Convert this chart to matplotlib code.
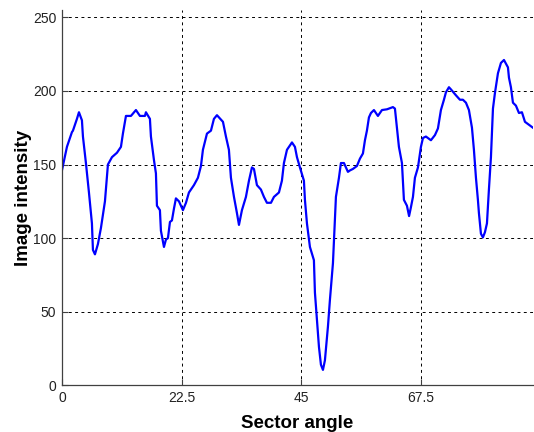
import numpy as np
import matplotlib
matplotlib.use("Agg")
import matplotlib.pyplot as plt

# intensity profile along the sector (angle in degrees, grey value)
angle = [0, 0.94, 1.88, 2.07, 2.82, 3.20, 3.76, 3.95, 4.51, 5.08, 5.64, 5.83, 6.21,
         6.77, 7.34, 8.09, 8.65, 9.41, 10.35, 10.91, 11.10, 11.47, 11.85, 12.04,
         12.98, 13.92, 14.67, 15.61, 15.80, 16.55, 16.74, 17.31, 17.68, 17.87,
         18.43, 18.62, 19.19, 19.56, 19.94, 20.32, 20.69, 21.07, 21.44, 22.01,
         22.76, 23.33, 23.89, 24.83, 25.58, 26.15, 26.52, 27.28, 28.03, 28.59,
         29.16, 29.53, 30.29, 30.85, 31.41, 31.79, 32.36, 32.92, 33.30, 33.86,
         34.61, 35.18, 35.74, 36.12, 36.68, 37.43, 38.00, 38.56, 39.32, 39.88,
         40.82, 41.38, 41.76, 42.33, 43.27, 43.83, 44.21, 44.77, 45.52, 45.71,
         46.09, 46.65, 47.40, 47.59, 47.97, 48.35, 48.72, 49.10, 49.47, 50.04,
         50.41, 50.98, 51.35, 51.54, 52.11, 52.48, 53.05, 53.80, 54.18, 54.74,
         55.49, 56.06, 56.62, 57.00, 57.37, 57.75, 58.13, 58.69, 59.44, 60.20,
         61.14, 62.26, 62.64, 63.02, 63.39, 63.96, 64.33, 64.90, 65.30, 65.65,
         66.03, 66.40, 66.97, 67.53, 67.91, 68.47, 69.41, 70.17, 70.73, 71.29,
         71.86, 72.23, 72.80, 73.18, 74.12, 74.87, 75.43, 76.00, 76.56, 77.13,
         77.50, 77.88, 78.25, 78.44, 78.82, 79.19, 79.57, 79.95, 80.32, 80.70,
         81.08, 81.45, 82.02, 82.58, 83.15, 83.90, 84.09, 84.46, 84.84, 85.40,
         85.97, 86.53, 87.10, 87.85, 88.60]
intensity = [146, 162, 172, 173, 181, 185.5, 180, 169, 151, 131, 110, 92, 89,
             96, 107, 125, 150, 155, 158, 161, 162, 171, 179, 183,
             183, 187, 183, 183, 185.5, 181, 169, 153, 144, 122,
             119, 105, 94, 99, 100, 111, 112, 120, 127, 125,
             119, 124, 131, 136, 141, 149, 160, 171, 173, 181,
             183.5, 182, 179, 169, 160, 141, 128, 117, 109, 119,
             128, 139, 148, 147, 136, 133, 128, 124, 124, 128,
             131, 139, 151, 160, 165, 162, 155, 148, 139, 126,
             110, 94, 85, 63, 44, 26, 14, 10.5, 17, 40,
             58, 83, 112, 128, 141, 151, 151, 145, 146, 147,
             149, 154, 157.5, 166.5, 173, 182, 185, 187, 183, 187,
             187.5, 189, 188, 175, 162, 151, 126, 122, 115, 121,
             128, 141, 148, 162, 168, 169, 166.5, 170, 174.5, 187,
             194, 199, 202.5, 201, 197, 194, 194, 192, 187, 175,
             160, 141, 126, 117, 103, 100.5, 104, 110, 133, 155,
             188, 198.5, 212, 219, 221, 216, 209, 202.5, 192, 190,
             185, 185.5, 179, 177, 175]

xticks = [0, 22.5, 45, 67.5]
xtick_labels = ["0", "22.5", "45", "67.5"]
yticks = [0, 50, 100, 150, 200, 250]

plt.rcParams['font.family'] = ['Liberation Sans', 'DejaVu Sans']

fig = plt.figure(figsize=(5.34, 4.32), dpi=100)
ax = fig.add_axes([0.116, 0.108, 0.882, 0.869])

ax.plot(angle, intensity, color=(0, 0, 1), lw=1.6)

ax.set_xlim(0, 88.6)
ax.set_ylim(0, 255)
ax.set_xticks(xticks)
ax.set_xticklabels(xtick_labels)
ax.set_yticks(yticks)

ax.grid(True, color='black', linestyle=(0, (3, 3.5)), lw=0.7)
ax.set_axisbelow(True)

for side in ['top', 'right']:
    ax.spines[side].set_visible(False)
for side in ['left', 'bottom']:
    ax.spines[side].set_color('#404040')
    ax.spines[side].set_linewidth(0.9)

ax.tick_params(direction='in', length=4, width=0.8, colors='#404040',
               labelcolor='#222222', labelsize=10, pad=4)

ax.set_xlabel('Sector angle', fontsize=13.5, fontweight='bold', labelpad=7)
ax.set_ylabel('Image intensity', fontsize=13.5, fontweight='bold', labelpad=1)

fig.savefig('out.png', dpi=100)
